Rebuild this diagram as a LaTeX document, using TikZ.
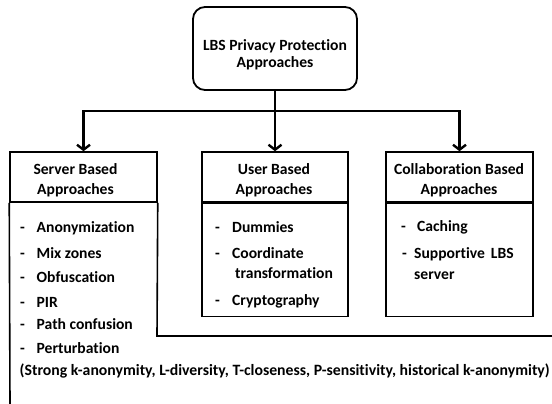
\documentclass[tikz,border=0pt]{standalone}
\usepackage{fontspec}
\setmainfont{Carlito}[Ligatures={NoCommon}]
\usetikzlibrary{arrows.meta}

\tikzset{
  txt/.style={font=\bfseries\fontsize{15.6}{20}\selectfont, text=black, inner sep=0pt},
  ctxt/.style={txt, align=center},
  itemtxt/.style={txt, anchor=base west},
  framebox/.style={draw=black, line width=1.5pt, inner sep=0pt, minimum width=#1},
  rootbox/.style={draw=black, line width=1.8pt, rounded corners=12pt, inner sep=0pt,
                  minimum width=164pt, minimum height=83pt},
  trunk/.style={draw=black, line width=2.8pt},
  branch/.style={trunk, -{Straight Barb[length=5pt, width=13pt, line width=2.4pt]}},
  edge line/.style={draw=black, line width=1.6pt}
}

\begin{document}
\begin{tikzpicture}[x=1pt, y=-1pt]
  \useasboundingbox (0,0) rectangle (552,404);
  \fill[white] (0,0) rectangle (552,404);

  % root
  \node[rootbox] (root) at (275,48.5) {};
  \node[ctxt, font=\bfseries\fontsize{15.6}{17}\selectfont] (rootlbl) at (275,54.5)
    {LBS Privacy Protection\\Approaches};

  % category headers
  \node[framebox=147pt, minimum height=50pt] (shead) at (83.5,177) {};
  \node[framebox=146pt, minimum height=50pt] (uhead) at (275,177) {};
  \node[framebox=147pt, minimum height=50pt] (chead) at (459.5,177) {};
  \node[ctxt] (slbl) at (75.5,180.5) {Server Based\\Approaches};
  \node[ctxt] (ulbl) at (274,180.5) {User Based\\Approaches};
  \node[ctxt] (clbl) at (459,180.5) {Collaboration Based\\Approaches};

  % bodies
  \node[framebox=146pt, minimum height=113pt, anchor=north] (ubody) at (uhead.south) {};
  \node[framebox=147pt, minimum height=113pt, anchor=north] (cbody) at (chead.south) {};
  \coordinate (sbl) at (10,404);
  \coordinate (sbr) at (157,336);
  \coordinate (sbe) at (552,336);
  \draw[edge line] (shead.south west) -- (sbl);
  \draw[edge line] (shead.south east) -- (sbr) -- (sbe);

  % connectors
  \coordinate (hub) at (275,111);
  \draw[trunk] (root.south) -- (hub);
  \draw[trunk] (83.5,111) -- (459.5,111);
  \draw[branch] (hub) -| (shead.north);
  \draw[branch] (hub) -- (uhead.north);
  \draw[branch] (hub) -| (chead.north);

  % server based items
  \foreach \y/\t [count=\i] in {232/Anonymization, 258/Mix zones, 282/Obfuscation,
                                307/PIR, 329/Path confusion, 353/Perturbation} {
    \node[itemtxt] (sd\i) at (20,\y) {-};
    \node[itemtxt] (si\i) at (36.5,\y) {\t};
  }
  \node[itemtxt, font=\bfseries\fontsize{15.75}{20}\selectfont] (sdetail) at (19.5,375)
    {(Strong k-anonymity, L-diversity, T-closeness, P-sensitivity, historical k-anonymity)};

  % user based items
  \node[itemtxt] (ud1) at (215,232) {-};
  \node[itemtxt] (ui1) at (232,232) {Dummies};
  \node[itemtxt] (ud2) at (215,258) {-};
  \node[itemtxt] (ui2) at (232,258) {Coordinate};
  \node[itemtxt] (ui2b) at (235,278) {transformation};
  \node[itemtxt] (ud3) at (215,305) {-};
  \node[itemtxt] (ui3) at (232,305) {Cryptography};

  % collaboration based items
  \node[itemtxt] (cd1) at (401,231) {-};
  \node[itemtxt] (ci1) at (417,231) {Caching};
  \node[itemtxt] (cd2) at (402,258) {-};
  \node[itemtxt] (ci2) at (414,258) {Supportive\hspace{6pt}LBS};
  \node[itemtxt] (ci2b) at (414,279) {server};
\end{tikzpicture}
\end{document}
